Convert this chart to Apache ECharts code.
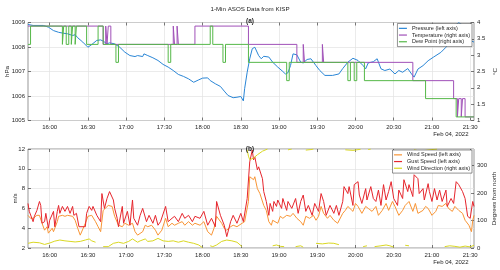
<!DOCTYPE html>
<html><head><meta charset="utf-8">
<script src="https://cdn.jsdelivr.net/npm/echarts@6/dist/echarts.min.js"></script>
<style>html,body{margin:0;padding:0;background:#fff}#c{width:500px;height:270px}</style>
</head><body><div id="c"></div>
<script>
// times are minutes after midnight (Feb 04, 2022, local station time)
const xTickValues = [960, 990, 1020, 1050, 1080, 1110, 1140, 1170, 1200, 1230, 1260, 1290];
const xTickLabels = ['16:00','16:30','17:00','17:30','18:00','18:30','19:00','19:30','20:00','20:30','21:00','21:30'];
const dirTickValues = [0, 100, 200, 300];

const pressure = [[943,1008.92],[947,1008.88],[955,1008.88],[959,1008.81],[963,1008.67],[967,1008.60],[971,1008.56],[974,1008.54],[978,1008.47],[980,1008.50],[982,1008.38],[986,1008.20],[990,1007.99],[993,1008.10],[997,1008.27],[1000,1008.29],[1002,1008.24],[1005,1008.13],[1007,1008.17],[1011,1008.13],[1015,1007.99],[1019,1007.79],[1023,1007.65],[1027,1007.61],[1029,1007.65],[1033,1007.61],[1034,1007.72],[1037,1007.65],[1041,1007.56],[1045,1007.45],[1049,1007.29],[1053,1007.18],[1057,1007.04],[1061,1006.88],[1065,1006.80],[1069,1006.70],[1073,1006.56],[1077,1006.66],[1080,1006.73],[1084,1006.74],[1086,1006.63],[1090,1006.50],[1094,1006.39],[1097,1006.20],[1100,1006.02],[1104,1005.93],[1107,1005.95],[1110,1005.98],[1112,1005.80],[1113,1006.30],[1115,1006.97],[1117,1007.52],[1119,1007.93],[1121,1007.99],[1124,1007.65],[1126,1007.52],[1128,1007.62],[1132,1007.59],[1135,1007.38],[1139,1007.18],[1143,1007.00],[1145,1006.90],[1147,1006.95],[1149,1007.24],[1151,1007.72],[1154,1007.68],[1157,1007.38],[1159,1007.35],[1162,1007.49],[1165,1007.52],[1169,1007.24],[1172,1007.04],[1176,1006.84],[1182,1006.84],[1187,1006.90],[1190,1007.12],[1194,1007.38],[1198,1007.54],[1202,1007.45],[1206,1007.24],[1208,1007.11],[1210,1007.35],[1214,1007.40],[1217,1007.52],[1220,1007.11],[1223,1007.04],[1227,1007.10],[1231,1006.90],[1234,1007.04],[1237,1006.97],[1241,1007.12],[1244,1006.90],[1246,1006.77],[1249,1007.10],[1253,1007.24],[1257,1007.44],[1261,1007.58],[1267,1007.78],[1271,1007.99],[1275,1008.33],[1278,1008.88],[1281,1008.99],[1284,1008.90],[1286,1008.70],[1289,1008.45],[1291,1008.25],[1293,1008.20]];

// step values (°C), each holds until the next time
const temperature = [[943,3.89],[1002,3.33],[1004,3.89],[1005,3.33],[1006,3.89],[1008,3.33],[1057,3.89],[1058,3.33],[1060,3.89],[1061,3.33],[1074,3.89],[1116,3.33],[1154,2.78],[1159,3.33],[1160,2.78],[1174,3.33],[1175,2.78],[1245,2.22],[1277,1.67],[1280,1.11],[1281,1.67],[1283,1.11],[1284,1.67],[1286,1.11],[1293,1.11]];
const dewPoint = [[943,3.33],[945,3.89],[970,3.33],[971,3.89],[973,3.33],[975,3.89],[977,3.33],[978,3.89],[980,3.33],[981,3.89],[989,3.33],[998,3.89],[1002,3.33],[1012,2.78],[1014,3.33],[1053,2.78],[1055,3.33],[1086,3.89],[1088,3.33],[1096,2.78],[1098,3.33],[1116,2.78],[1146,2.22],[1148,2.78],[1194,2.22],[1196,2.78],[1199,2.22],[1201,2.78],[1207,2.22],[1255,1.67],[1279,1.11],[1293,1.11]];

const windSpeed = [[943,5.3],[945,5.0],[947,5.0],[950,5.3],[952,5.3],[954,4.5],[956,3.8],[958,4.15],[959,3.5],[962,4.0],[963,3.65],[966,4.66],[967,5.2],[970,5.3],[972,5.2],[974,5.3],[978,5.2],[980,4.8],[982,4.0],[984,3.3],[988,4.5],[990,5.2],[993,5.3],[996,4.66],[998,4.15],[1000,3.65],[1002,5.8],[1003,6.0],[1006,6.3],[1009,6.2],[1011,5.2],[1014,4.3],[1017,4.15],[1019,4.5],[1022,4.3],[1025,4.5],[1027,3.65],[1029,3.3],[1033,3.65],[1035,4.3],[1037,4.15],[1040,4.3],[1043,3.8],[1045,3.3],[1048,3.8],[1051,5.0],[1053,4.15],[1056,4.5],[1058,4.3],[1061,4.5],[1064,4.66],[1066,4.3],[1069,4.66],[1072,4.3],[1074,4.5],[1078,4.3],[1081,4.66],[1084,3.65],[1087,3.3],[1089,4.0],[1091,5.2],[1095,4.5],[1097,4.0],[1099,3.8],[1102,4.15],[1104,4.3],[1107,4.15],[1111,4.5],[1113,4.66],[1116,6.7],[1117,9.2],[1120,8.9],[1121,9.2],[1123,8.0],[1125,7.5],[1128,6.3],[1130,5.8],[1132,4.66],[1134,4.3],[1135,4.8],[1139,4.5],[1141,5.2],[1143,5.0],[1146,5.3],[1149,5.2],[1151,5.5],[1154,5.0],[1157,4.66],[1159,4.3],[1161,5.2],[1164,5.0],[1167,5.3],[1169,4.8],[1171,5.2],[1173,6.2],[1175,5.5],[1178,5.0],[1180,5.3],[1183,4.8],[1186,4.5],[1187,4.3],[1190,5.5],[1192,5.8],[1194,6.2],[1198,5.7],[1200,6.5],[1202,6.2],[1205,5.5],[1208,6.2],[1210,6.0],[1213,5.7],[1216,6.2],[1218,5.3],[1221,5.8],[1224,6.5],[1226,5.8],[1229,6.7],[1231,6.2],[1234,5.3],[1237,5.8],[1239,6.3],[1242,6.7],[1245,5.7],[1247,6.5],[1249,5.5],[1253,5.8],[1255,6.2],[1257,6.0],[1260,5.3],[1263,5.7],[1265,6.3],[1268,6.2],[1271,6.5],[1273,6.0],[1276,5.7],[1278,6.2],[1281,5.8],[1284,5.5],[1286,4.8],[1289,4.3],[1291,3.65],[1292,4.8],[1293,5.3]];

const gustSpeed = [[943,6.5],[944,5.7],[945,5.7],[947,4.66],[948,5.2],[950,5.8],[952,6.7],[953,6.3],[954,4.5],[956,4.66],[957,5.5],[959,4.0],[960,4.8],[963,5.7],[964,4.15],[966,5.7],[967,6.3],[968,5.5],[970,6.2],[972,5.7],[974,6.2],[976,5.5],[978,6.2],[979,5.3],[981,5.5],[983,4.15],[988,4.15],[989,5.5],[991,6.2],[993,5.8],[994,6.2],[997,5.3],[1000,4.66],[1001,7.5],[1003,6.0],[1005,7.0],[1007,7.7],[1010,6.85],[1011,6.0],[1013,5.0],[1014,4.15],[1017,6.2],[1018,4.5],[1021,5.7],[1023,4.3],[1025,6.85],[1026,5.0],[1029,4.3],[1031,5.3],[1033,6.0],[1036,4.66],[1038,5.3],[1041,4.5],[1043,5.3],[1045,4.3],[1047,4.66],[1051,6.2],[1053,4.66],[1056,5.0],[1058,5.2],[1061,4.66],[1064,5.5],[1066,5.0],[1069,5.3],[1072,4.66],[1074,5.2],[1078,5.0],[1081,5.7],[1084,4.3],[1087,5.0],[1090,4.15],[1091,6.7],[1094,5.3],[1097,4.3],[1099,3.15],[1102,4.66],[1104,5.3],[1107,4.5],[1110,5.5],[1112,4.66],[1115,7.0],[1117,10.7],[1119,11.9],[1120,10.9],[1121,11.2],[1123,9.9],[1124,10.2],[1127,9.0],[1128,7.7],[1130,6.7],[1132,5.3],[1133,6.5],[1135,5.7],[1136,6.7],[1138,6.2],[1139,6.85],[1142,6.0],[1143,7.0],[1146,5.8],[1147,6.7],[1150,6.0],[1153,7.0],[1155,5.5],[1157,6.7],[1159,7.35],[1161,5.7],[1163,6.3],[1166,5.3],[1168,6.5],[1171,5.7],[1173,7.5],[1175,6.7],[1177,5.3],[1180,6.3],[1183,5.5],[1185,6.3],[1187,5.3],[1190,6.7],[1191,8.2],[1194,7.5],[1195,8.2],[1198,6.3],[1199,8.4],[1202,8.7],[1203,7.35],[1205,6.5],[1208,8.0],[1209,6.85],[1212,8.2],[1214,7.0],[1216,6.7],[1218,7.85],[1220,6.3],[1222,8.4],[1224,6.85],[1226,7.7],[1228,8.7],[1230,7.0],[1233,6.3],[1234,7.85],[1237,7.0],[1238,8.9],[1241,7.7],[1242,8.4],[1245,7.2],[1246,9.4],[1249,9.0],[1250,7.5],[1253,8.0],[1254,6.85],[1257,8.5],[1258,7.7],[1260,6.7],[1262,8.0],[1264,6.85],[1266,7.85],[1268,6.7],[1271,7.85],[1272,6.2],[1275,7.0],[1277,6.5],[1279,8.7],[1281,8.4],[1284,7.7],[1286,7.0],[1288,5.2],[1290,5.0],[1292,6.7],[1293,6.2]];

// wind direction in degrees; null = break in the line (direction wrapped past north)
const windDir = [[943,17],[947,21],[952,19],[956,13],[960,18],[964,25],[968,29],[972,26],[976,24],[980,22],[984,24],[988,29],[991,33],[993,26],[996,21],[998,null],
 [1002,5],[1006,5],[1010,17],[1014,21],[1018,17],[1022,24],[1025,33],[1029,21],[1031,26],[1035,33],[1037,24],[1041,26],[1045,35],[1049,26],[1053,24],[1057,26],[1061,21],[1065,26],[1069,21],[1073,17],[1077,11],[1080,1],[1082,null],
 [1086,8],[1088,5],[1091,11],[1095,24],[1099,29],[1103,26],[1107,21],[1111,5],[1113,null],
 [1115,357],[1116,334],[1117,321],[1120,327],[1123,339],[1127,352],[1131,360],[1132,null],
 [1135,8],[1138,11],[1141,6],[1144,5],[1145,null],[1147,357],[1150,360],[1151,null],
 [1153,5],[1157,8],[1159,3],[1160,null],[1161,356],[1165,358],[1167,360],[1168,null],
 [1169,17],[1174,15],[1179,18],[1183,17],[1187,12],[1189,null],[1192,357],[1198,355],[1204,359],[1205,null],
 [1206,5],[1209,8],[1209.5,null],[1210,358],[1212,360],[1213,null],
 [1215,5],[1220,8],[1224,11],[1227,8],[1230,3],[1232,null],[1239,10],[1242,8],[1244,null],
 [1246,357],[1250,353],[1255,355],[1260,358],[1264,360],[1266,null],
 [1270,5],[1274,8],[1278,6],[1282,3],[1286,7],[1290,4],[1293,10]];

const FONT = 'Liberation Sans, Arial, Helvetica, sans-serif';
const INK = '#262626';
const GRIDC = '#e3e3e3';
const pts = a => a.map(p => [p[0], p[1] === null ? '-' : p[1]]);

function xAxis(gi, pos, main) {
  return {
    type: 'value', gridIndex: gi, position: pos, min: 943, max: 1293,
    axisLine: { show: false },
    axisTick: { show: true, inside: true, length: 3, customValues: xTickValues, lineStyle: { color: INK, width: 0.6 } },
    axisLabel: { show: main, customValues: xTickValues, formatter: v => xTickLabels[xTickValues.indexOf(v)],
      fontSize: 6, color: INK, margin: 4, fontFamily: FONT },
    splitLine: { show: main, lineStyle: { color: GRIDC, width: 0.7 } }
  };
}
function yAxis(gi, pos, o) {
  return Object.assign({
    type: 'value', gridIndex: gi, position: pos,
    axisLine: { show: false },
    axisTick: { show: true, inside: true, length: 3, lineStyle: { color: INK, width: 0.6 } },
    axisLabel: { fontSize: 6, color: INK, margin: 3, fontFamily: FONT, formatter: v => String(v) },
    splitLine: { show: pos === 'left', lineStyle: { color: GRIDC, width: 0.7 } },
    nameLocation: 'middle', nameRotate: 90, nameMoveOverlap: false,
    nameTextStyle: { fontSize: 6.2, color: INK, fontFamily: FONT }
  }, o);
}
function line(name, data, xi, yi, color, step) {
  return { name, type: 'line', data: pts(data), xAxisIndex: xi, yAxisIndex: yi, showSymbol: false, symbol: 'none',
    step: step || false, connectNulls: false, lineStyle: { color, width: 1 }, itemStyle: { color }, clip: true };
}
const legendBase = {
  orient: 'vertical', right: 28, icon: 'rect', itemWidth: 8, itemHeight: 1.2, itemGap: 0,
  padding: [1.5, 2, 1.5, 1.5], backgroundColor: '#fff', borderColor: INK, borderWidth: 0.5,
  textStyle: { fontSize: 5.5, lineHeight: 6.7, color: INK, fontFamily: FONT }, selectedMode: false
};
const gridBase = { left: 28, right: 26, show: true, borderColor: '#6a6a6a', borderWidth: 0.7,
  backgroundColor: '#fff', containLabel: false, outerBoundsMode: 'none' };

const chart = echarts.init(document.getElementById('c'), null, { renderer: 'canvas' });
chart.setOption({
  animation: false,
  backgroundColor: '#fff',
  title: [
    { text: '1-Min ASOS Data from KISP', left: 'center', top: 1.5, textStyle: { fontSize: 6.2, fontWeight: 'normal', color: INK, fontFamily: FONT } },
    { text: '(a)', left: 'center', top: 12.5, textStyle: { fontSize: 6.5, fontWeight: 'bold', color: INK, fontFamily: FONT } },
    { text: '(b)', left: 'center', top: 140.5, textStyle: { fontSize: 6.5, fontWeight: 'bold', color: INK, fontFamily: FONT } }
  ],
  grid: [
    Object.assign({}, gridBase, { top: 22.5, height: 98 }),
    Object.assign({}, gridBase, { top: 149, height: 99 })
  ],
  xAxis: [xAxis(0, 'bottom', true), xAxis(1, 'bottom', true), xAxis(0, 'top', false), xAxis(1, 'top', false)],
  yAxis: [
    yAxis(0, 'left', { min: 1005, max: 1009, interval: 1, name: 'hPa', nameGap: 18 }),
    yAxis(0, 'right', { min: 1, max: 4, interval: 0.5, name: '°C', nameGap: 18 }),
    yAxis(1, 'left', { min: 2, max: 12, interval: 2, name: 'm/s', nameGap: 10 }),
    yAxis(1, 'right', { min: 0, max: 360, name: 'Degrees from north', nameGap: 17,
      axisLabel: { fontSize: 6, color: INK, margin: 3, fontFamily: FONT, customValues: dirTickValues, formatter: v => String(v) },
      axisTick: { show: true, inside: true, length: 3, customValues: dirTickValues, lineStyle: { color: INK, width: 0.6 } } })
  ],
  legend: [
    Object.assign({}, legendBase, { top: 23.5, data: ['Pressure (left axis)', 'Temperature (right axis)', 'Dew Point (right axis)'] }),
    Object.assign({}, legendBase, { top: 150, data: ['Wind Speed (left axis)', 'Gust Speed (left axis)', 'Wind Direction (right axis)'] })
  ],
  graphic: [
    { type: 'text', right: 31.5, top: 131.5, style: { text: 'Feb 04, 2022', fontSize: 6, fill: INK, fontFamily: FONT } },
    { type: 'text', right: 31.5, top: 259.5, style: { text: 'Feb 04, 2022', fontSize: 6, fill: INK, fontFamily: FONT } }
  ],
  series: [
    line('Pressure (left axis)', pressure, 0, 0, '#2a86d6'),
    line('Temperature (right axis)', temperature, 0, 1, '#a050b8', 'end'),
    line('Dew Point (right axis)', dewPoint, 0, 1, '#55b848', 'end'),
    line('Wind Speed (left axis)', windSpeed, 1, 2, '#f99535'),
    line('Gust Speed (left axis)', gustSpeed, 1, 2, '#e6262d'),
    line('Wind Direction (right axis)', windDir, 1, 3, '#d9d722')
  ]
});
</script></body></html>
